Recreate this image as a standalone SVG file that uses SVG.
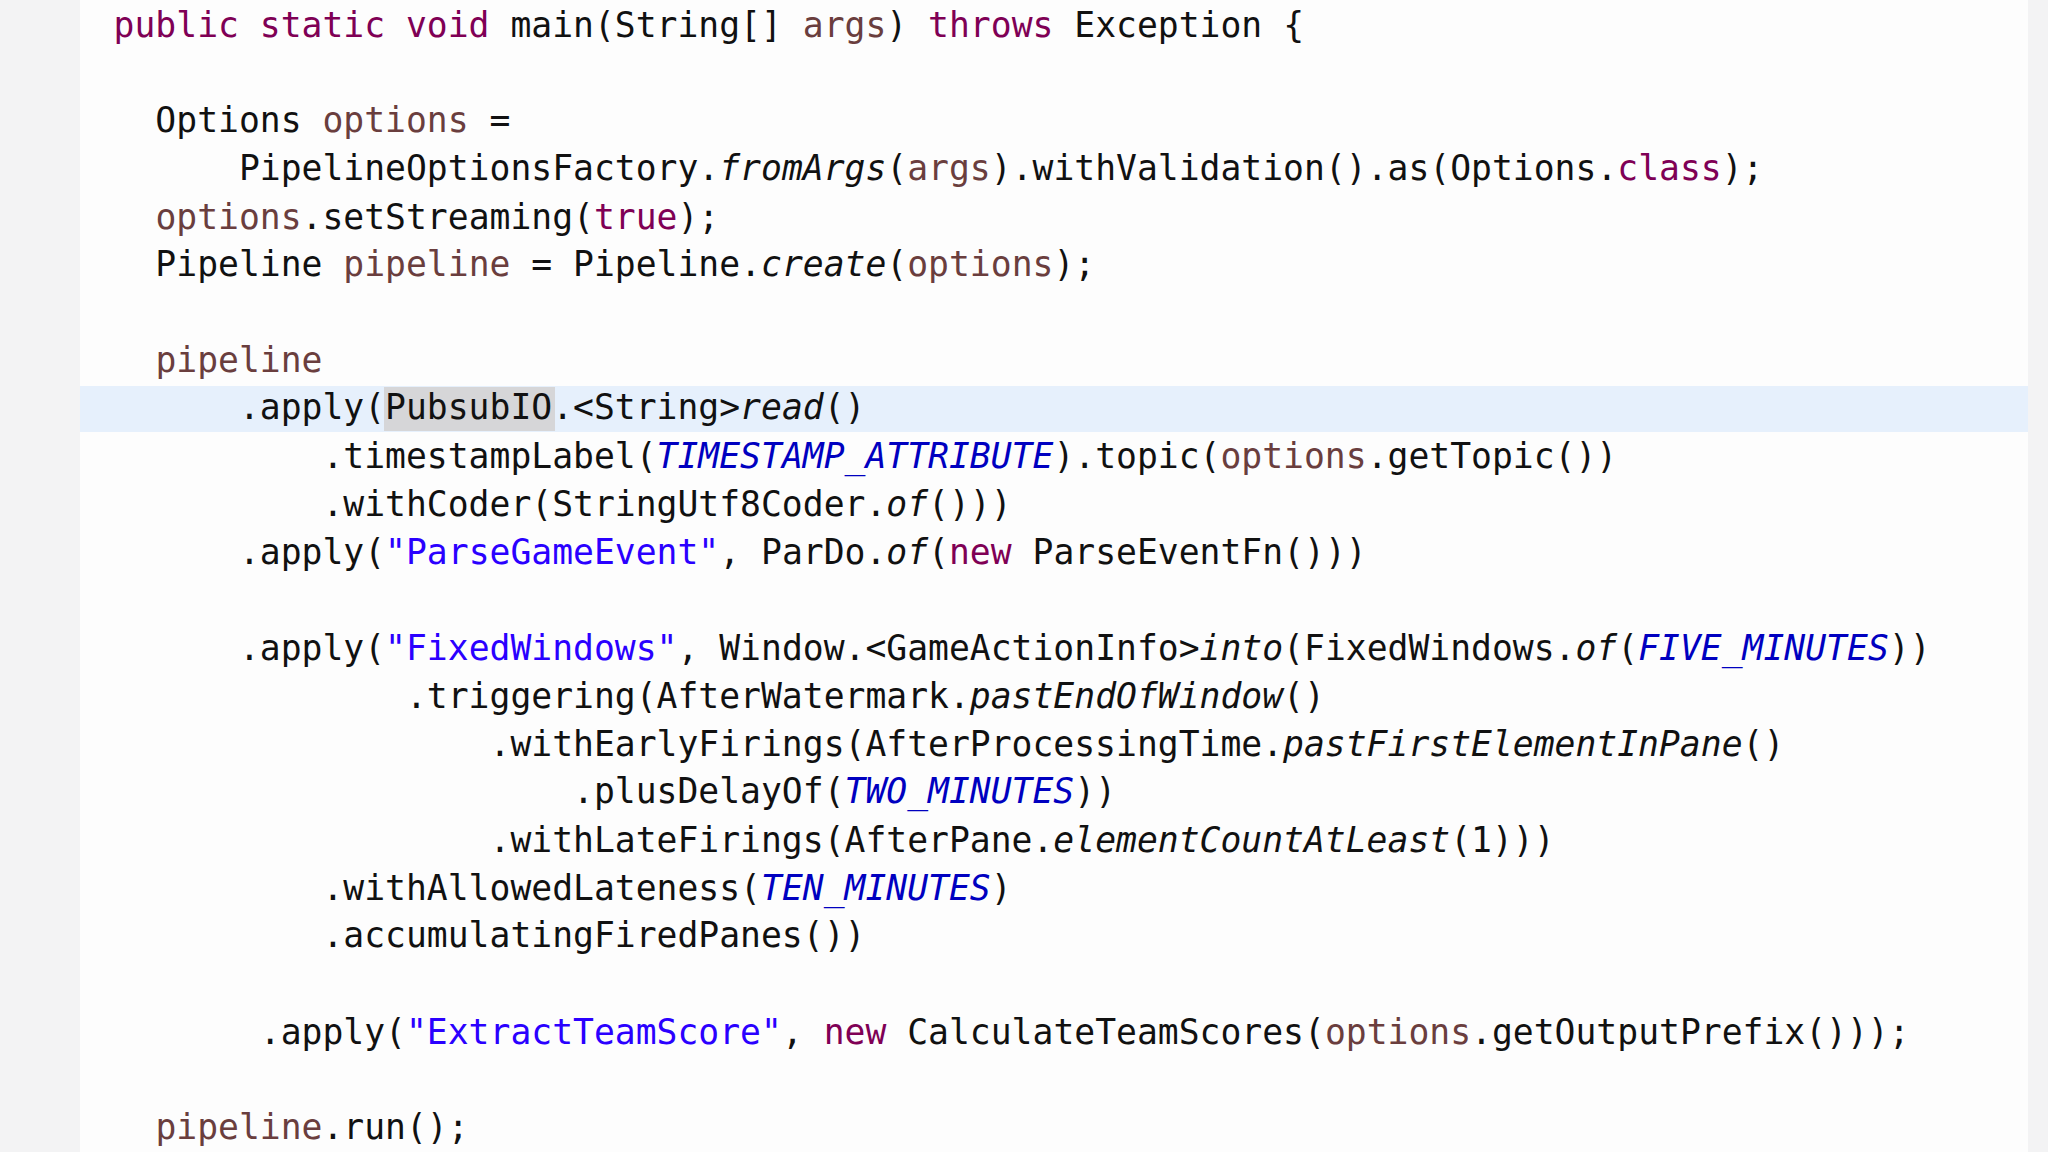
<svg xmlns="http://www.w3.org/2000/svg" width="2048" height="1152" viewBox="0 0 2048 1152">
<style>
text{font-family:"DejaVu Sans Mono","Liberation Mono",monospace;font-size:34.7px;fill:#111;white-space:pre}
.k{fill:#7f0055}.v{fill:#6a3e3e}.s{fill:#2a00ff}.c{fill:#0000c0;font-style:italic}.i{font-style:italic}
</style>
<rect width="2048" height="1152" fill="#f3f3f4"/>
<rect x="80" y="0" width="1948" height="1152" fill="#fdfdfd"/>
<rect x="80" y="386" width="1948" height="46" fill="#e6f0fc"/>
<rect x="384" y="387" width="171" height="44" fill="#d6d6d8"/>
<g id="code" xml:space="preserve">
<text x="113.6" y="36.6"><tspan class="k">public static void</tspan> main(String[] <tspan class="v">args</tspan>) <tspan class="k">throws</tspan> Exception {</text>
<text x="113.6" y="132">  Options <tspan class="v">options</tspan> =</text>
<text x="113.6" y="180">      PipelineOptionsFactory.<tspan class="i">fromArgs</tspan>(<tspan class="v">args</tspan>).withValidation().as(Options.<tspan class="k">class</tspan>);</text>
<text x="113.6" y="228.5">  <tspan class="v">options</tspan>.setStreaming(<tspan class="k">true</tspan>);</text>
<text x="113.6" y="275.6">  Pipeline <tspan class="v">pipeline</tspan> = Pipeline.<tspan class="i">create</tspan>(<tspan class="v">options</tspan>);</text>
<text x="113.6" y="372">  <tspan class="v">pipeline</tspan></text>
<text x="113.6" y="419">      .apply(PubsubIO.&lt;String&gt;<tspan class="i">read</tspan>()</text>
<text x="113.6" y="467.6">          .timestampLabel(<tspan class="c">TIMESTAMP_ATTRIBUTE</tspan>).topic(<tspan class="v">options</tspan>.getTopic())</text>
<text x="113.6" y="516">          .withCoder(StringUtf8Coder.<tspan class="i">of</tspan>()))</text>
<text x="113.6" y="564">      .apply(<tspan class="s">"ParseGameEvent"</tspan>, ParDo.<tspan class="i">of</tspan>(<tspan class="k">new</tspan> ParseEventFn()))</text>
<text x="113.6" y="659.5">      .apply(<tspan class="s">"FixedWindows"</tspan>, Window.&lt;GameActionInfo&gt;<tspan class="i">into</tspan>(FixedWindows.<tspan class="i">of</tspan>(<tspan class="c">FIVE_MINUTES</tspan>))</text>
<text x="113.6" y="708">              .triggering(AfterWatermark.<tspan class="i">pastEndOfWindow</tspan>()</text>
<text x="113.6" y="756">                  .withEarlyFirings(AfterProcessingTime.<tspan class="i">pastFirstElementInPane</tspan>()</text>
<text x="113.6" y="803">                      .plusDelayOf(<tspan class="c">TWO_MINUTES</tspan>))</text>
<text x="113.6" y="851.5">                  .withLateFirings(AfterPane.<tspan class="i">elementCountAtLeast</tspan>(1)))</text>
<text x="113.6" y="900">          .withAllowedLateness(<tspan class="c">TEN_MINUTES</tspan>)</text>
<text x="113.6" y="947">          .accumulatingFiredPanes())</text>
<text x="113.6" y="1043.5">       .apply(<tspan class="s">"ExtractTeamScore"</tspan>, <tspan class="k">new</tspan> CalculateTeamScores(<tspan class="v">options</tspan>.getOutputPrefix()));</text>
<text x="113.6" y="1139">  <tspan class="v">pipeline</tspan>.run();</text>
</g>
</svg>
